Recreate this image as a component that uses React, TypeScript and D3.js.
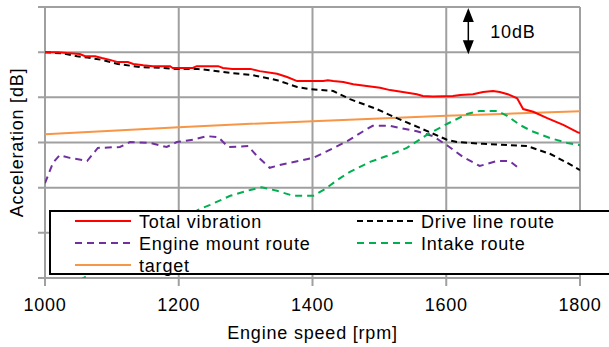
import * as d3 from 'd3';

const rpmTicks = [1000, 1200, 1400, 1600, 1800];
const dbTicks = [0, 10, 20, 30, 40, 50, 60];

// [rpm, dB]
const totalVibration = [
  [1000, 50.0], [1019, 50.0], [1033, 49.8], [1052, 49.6], [1060, 49.1], [1075, 49.1],
  [1085, 48.7], [1097, 48.3], [1109, 47.8], [1124, 47.8], [1132, 47.4], [1147, 47.1],
  [1161, 46.9], [1187, 46.9], [1191, 46.5], [1221, 46.5], [1227, 46.9], [1259, 46.9],
  [1266, 46.5], [1280, 46.3], [1307, 46.3], [1321, 45.8], [1347, 45.2], [1362, 44.5],
  [1377, 43.6], [1416, 43.6], [1423, 43.8], [1431, 43.6], [1446, 43.4], [1461, 42.9],
  [1481, 42.5], [1501, 42.1], [1516, 41.6], [1535, 41.2], [1556, 40.7], [1565, 40.3],
  [1580, 40.2], [1610, 40.3], [1621, 40.5], [1640, 40.7], [1655, 41.2], [1670, 41.4],
  [1680, 41.2], [1692, 40.7], [1706, 39.8], [1715, 37.4], [1730, 36.8], [1751, 35.4],
  [1775, 33.9], [1796, 32.3], [1800, 32.1],
];

const driveLine = [
  [1000, 50.0], [1027, 49.7], [1048, 49.1], [1064, 48.8], [1085, 48.3], [1109, 47.4],
  [1142, 46.7], [1176, 46.5], [1191, 46.3], [1227, 46.3], [1247, 46.0], [1277, 45.4],
  [1311, 44.9], [1347, 43.8], [1377, 42.3], [1396, 41.8], [1431, 41.4], [1456, 39.6],
  [1496, 37.4], [1526, 35.4], [1561, 33.2], [1601, 30.6], [1616, 30.1], [1655, 29.7],
  [1721, 29.2], [1755, 27.5], [1781, 25.5], [1800, 23.9],
];

const engineMount = [
  [1000, 21.0], [1012, 25.5], [1022, 27.2], [1037, 26.6], [1063, 25.9], [1079, 28.8],
  [1112, 29.0], [1127, 30.1], [1157, 29.9], [1182, 29.0], [1197, 30.1], [1221, 30.6],
  [1242, 31.4], [1259, 31.2], [1274, 29.0], [1304, 29.2], [1317, 27.0], [1336, 24.4],
  [1356, 25.2], [1386, 26.1], [1401, 26.6], [1422, 28.1], [1452, 30.3], [1476, 32.5],
  [1490, 33.7], [1516, 33.7], [1531, 33.2], [1556, 32.5], [1580, 31.4], [1601, 29.4],
  [1625, 26.8], [1650, 24.8], [1676, 25.9], [1695, 25.9], [1710, 24.1],
];

const intake = [
  [1052, -0.5], [1229, 15.1], [1247, 16.2], [1277, 18.2], [1307, 19.5], [1324, 20.1],
  [1347, 19.3], [1371, 18.2], [1401, 18.2], [1419, 19.7], [1437, 21.7], [1456, 23.5],
  [1486, 25.7], [1511, 27.0], [1541, 28.8], [1571, 31.7], [1601, 34.1], [1631, 36.3],
  [1650, 37.0], [1676, 37.0], [1691, 35.9], [1710, 33.9], [1728, 32.5], [1755, 31.0],
  [1781, 29.9], [1800, 29.4],
];

const target = [
  [1000, 31.8], [1100, 32.6], [1200, 33.4], [1300, 34.1], [1400, 34.7],
  [1500, 35.3], [1600, 35.9], [1700, 36.4], [1800, 36.9],
];

const legendItems = [
  { label: 'Total vibration', color: '#ff0000', dash: '', col: 0, row: 0 },
  { label: 'Drive line route', color: '#000000', dash: '6 4', col: 1, row: 0 },
  { label: 'Engine mount route', color: '#7030a0', dash: '7 5', col: 0, row: 1 },
  { label: 'Intake route', color: '#00b050', dash: '7 5', col: 1, row: 1 },
  { label: 'target', color: '#f79646', dash: '', col: 0, row: 2 },
];

const W = 609;
const H = 347;
const grid = '#a0a0a0';
const font = 'Liberation Sans, Arial, sans-serif';
const ls = 0.8;

export default function App() {
  const x = d3.scaleLinear().domain([1000, 1800]).range([45, 580]);
  const y = d3.scaleLinear().domain([0, 60]).range([278, 7]);
  const line = d3
    .line<number[]>()
    .x((d) => x(d[0]))
    .y((d) => y(d[1]));

  const series = [
    { data: target, color: '#f79646', dash: '' },
    { data: engineMount, color: '#7030a0', dash: '7 5' },
    { data: intake, color: '#00b050', dash: '7 5' },
    { data: driveLine, color: '#000000', dash: '6 4' },
    { data: totalVibration, color: '#ff0000', dash: '' },
  ];

  // 10 dB scale marker
  const arrowX = x(1633);
  const aTop = y(60) + 1;
  const aBot = y(50) + 2;

  return (
    <svg
      width={W}
      height={H}
      viewBox={`0 0 ${W} ${H}`}
      style={{ position: 'absolute', left: 0, top: 0, background: '#fff' }}
      fontFamily={font}
      letterSpacing={ls}
    >
      <defs>
        <clipPath id="plot">
          <rect x={x(1000)} y={y(60)} width={x(1800) - x(1000)} height={y(0) - y(60)} />
        </clipPath>
      </defs>

      {dbTicks.map((t) => (
        <line key={'h' + t} x1={x(1000) - 7} x2={x(1800)} y1={y(t)} y2={y(t)} stroke={grid} strokeWidth={2} />
      ))}
      {rpmTicks.map((t) => (
        <line key={'v' + t} x1={x(t)} x2={x(t)} y1={y(60)} y2={y(0) + 8} stroke={grid} strokeWidth={2} />
      ))}

      <g clipPath="url(#plot)">
        {series.map((s, i) => (
          <path
            key={i}
            d={line(s.data) || ''}
            fill="none"
            stroke={s.color}
            strokeWidth={2}
            strokeDasharray={s.dash}
          />
        ))}
      </g>

      <line x1={arrowX} x2={arrowX} y1={aTop + 10} y2={aBot - 10} stroke="#000" strokeWidth={1.5} />
      <path d={`M${arrowX},${aTop} L${arrowX - 5.5},${aTop + 14} L${arrowX + 5.5},${aTop + 14} Z`} fill="#000" />
      <path d={`M${arrowX},${aBot} L${arrowX - 5.5},${aBot - 14} L${arrowX + 5.5},${aBot - 14} Z`} fill="#000" />
      <text x={arrowX + 22} y={38} fontSize={18}>10dB</text>

      <rect x={50} y={211} width={570} height={63} fill="#fff" stroke="#000" strokeWidth={2} />
      {legendItems.map((it) => {
        const lx = it.col === 0 ? 75 : 357;
        const ly = 221 + it.row * 22;
        return (
          <g key={it.label}>
            <line x1={lx} x2={lx + 56} y1={ly} y2={ly} stroke={it.color} strokeWidth={2} strokeDasharray={it.dash} />
            <text x={lx + 64} y={ly + 7} fontSize={18}>{it.label}</text>
          </g>
        );
      })}

      {rpmTicks.map((t) => (
        <text key={'l' + t} x={x(t)} y={311} textAnchor="middle" fontSize={18}>{t}</text>
      ))}
      <text x={(x(1000) + x(1800)) / 2} y={339} textAnchor="middle" fontSize={18}>Engine speed [rpm]</text>
      <text transform={`translate(23,${(y(0) + y(60)) / 2}) rotate(-90)`} textAnchor="middle" fontSize={18}>
        Acceleration [dB]
      </text>
    </svg>
  );
}
